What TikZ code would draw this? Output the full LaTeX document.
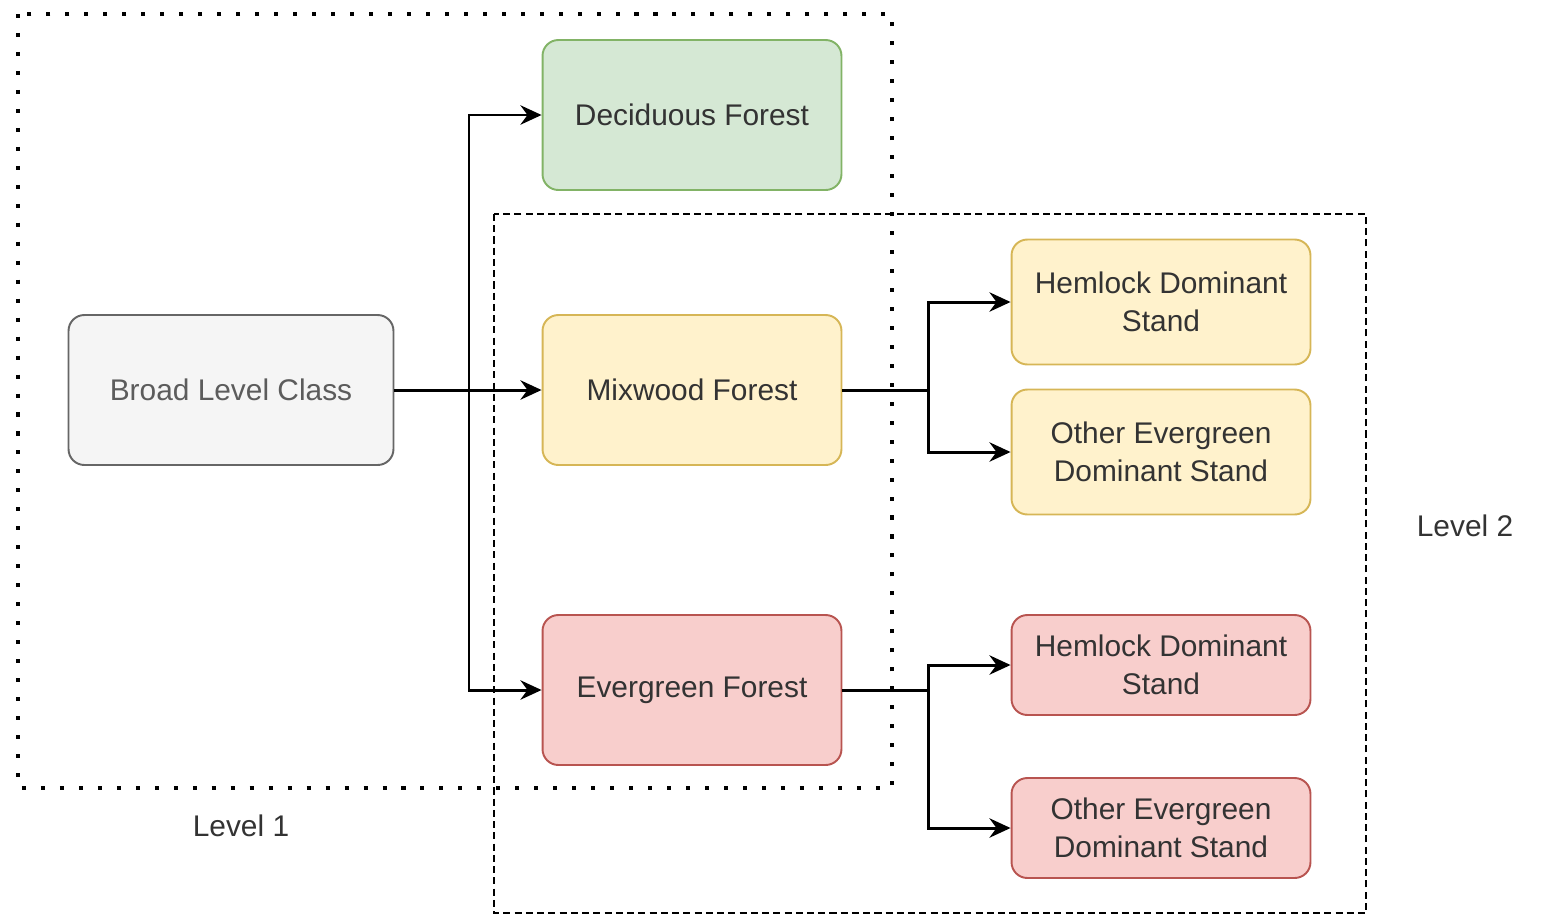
\documentclass[tikz,border=0pt]{standalone}
\usepackage{fontspec}
\setmainfont{Liberation Sans}
\usetikzlibrary{arrows.meta}

\definecolor{greenfill}{HTML}{D5E8D4}
\definecolor{greenline}{HTML}{82B366}
\definecolor{yellowfill}{HTML}{FFF2CC}
\definecolor{yellowline}{HTML}{D6B656}
\definecolor{redfill}{HTML}{F8CECC}
\definecolor{redline}{HTML}{B85450}
\definecolor{grayfill}{HTML}{F5F5F5}
\definecolor{grayline}{HTML}{666666}
\definecolor{textgray}{HTML}{333333}

\tikzset{
  classbox/.style={draw, rounded corners=9pt, line width=1.1pt,
    minimum width=5.98cm, align=center, text=textgray,
    font=\fontsize{17}{21.5}\selectfont},
  flow/.style={line width=1.7pt, -{Stealth[length=12pt,width=11pt,inset=4pt]}},
  levelone/.style={line width=2.3pt, dash pattern=on 2.3pt off 8.5pt},
  leveltwo/.style={line width=1.5pt, dash pattern=on 4pt off 2.4pt},
  levellabel/.style={text=textgray, font=\fontsize{17}{20}\selectfont}
}

\begin{document}
\begin{tikzpicture}[x=0.02cm, y=-0.02cm]
      \useasboundingbox (0,0) rectangle (1542,917);

      % Broad level and the three forest types
      \node[classbox, fill=grayfill, draw=grayline, text=grayline!90!black,
            minimum width=6.5cm, minimum height=3cm] (broad) at (231,390) {Broad Level Class};
      \node[classbox, fill=greenfill, draw=greenline, minimum height=3cm] (decid) at (692,115) {Deciduous Forest};
      \node[classbox, fill=yellowfill, draw=yellowline, minimum height=3cm] (mix) at (692,390) {Mixwood Forest};
      \node[classbox, fill=redfill, draw=redline, minimum height=3cm] (ever) at (692,690) {Evergreen Forest};

      % Stands under mixwood and evergreen
      \node[classbox, fill=yellowfill, draw=yellowline, minimum height=2.5cm] (mixhem) at (1161,302) {Hemlock Dominant\\Stand};
      \node[classbox, fill=yellowfill, draw=yellowline, minimum height=2.5cm] (mixoth) at (1161,452) {Other Evergreen\\Dominant Stand};
      \node[classbox, fill=redfill, draw=redline, minimum height=2cm] (everhem) at (1161,665) {Hemlock Dominant\\Stand};
      \node[classbox, fill=redfill, draw=redline, minimum height=2cm] (everoth) at (1161,828) {Other Evergreen\\Dominant Stand};

      % Branch points
      \coordinate (split) at (469,390);
      \coordinate (mixsplit) at (928,390);
      \coordinate (eversplit) at (928,690);

      % Arrows from the broad class
      \draw[flow] (broad.east) -- (mix.west);
      \draw[flow] (split) |- (decid.west);
      \draw[flow] (split) |- (ever.west);

      % Arrows into the stands
      \draw[line width=1.7pt] (mix.east) -- (mixsplit);
      \draw[line width=1.7pt] (ever.east) -- (eversplit);
      \foreach \s in {mixhem, mixoth} {
          \draw[flow] (mixsplit) |- (\s.west);
      }
      \foreach \s in {everhem, everoth} {
          \draw[flow] (eversplit) |- (\s.west);
      }

      % Level frames and their labels
      \draw[levelone] (18,14) rectangle (892,788);
      \draw[leveltwo] (494,214) rectangle (1366,913);
      \node[levellabel] (lvlone) at (241,826) {Level 1};
      \node[levellabel] (lvltwo) at (1465,526) {Level 2};

    \end{tikzpicture}
\end{document}
